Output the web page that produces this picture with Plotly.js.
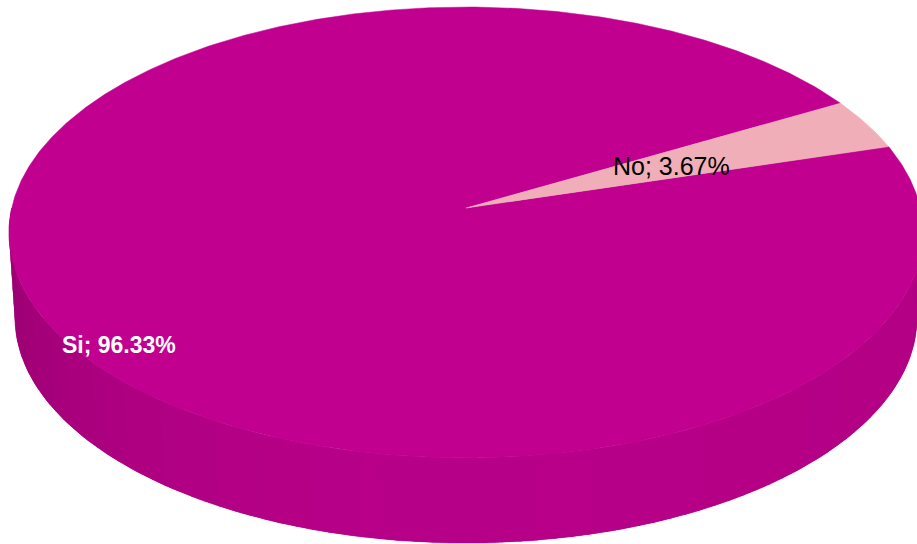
<!DOCTYPE html>
<html><head><meta charset="utf-8">
<script src="https://cdn.plot.ly/plotly-3.0.1.min.js"></script>
<style>html,body{margin:0;padding:0;background:#fff}#chart{width:917px;height:544px}</style>
</head><body><div id="chart"></div>
<script>
// ---- data ----
const categories = ["Si", "No"];
const values = [96.33, 3.67];
const sliceColors = ["#C1008F", "#F0AFB8"];
const labelTexts = ["Si; 96.33%", "No; 3.67%"];

// ---- style / geometry (not data) ----
const geo = {cx: 466, cy: 208, A: 454.3, B: 222.8, k: 0.1086, depth: 85, bottomScale: 0.987, start: 16.5};
const labelStyle = [
  {r: 0.92, dAngle: 15.8, color: "#FFFFFF", size: 23, bold: true},
  {r: 0.50, dAngle: -0.5, color: "#000000", size: 25, bold: false}
];

function proj(theta, r, drop) {
  const t = theta * Math.PI / 180;
  const u = r * Math.cos(t), v = r * Math.sin(t);
  const d = 1 + geo.k * v;
  let X = geo.A * u / d, Y = -geo.B * v / d;
  if (drop) { X *= geo.bottomScale; Y += geo.depth; }
  return [geo.cx + X, geo.cy + Y];
}
function hexToRgb(h) { return [parseInt(h.substr(1,2),16), parseInt(h.substr(3,2),16), parseInt(h.substr(5,2),16)]; }
function shade(hex, f) { const c = hexToRgb(hex); return "rgb(" + c.map(x => Math.round(x * f)).join(",") + ")"; }
function wallFactor(theta) {
  let a = ((theta % 360) + 360) % 360;
  const t = (a - 180) / 180;
  if (t < 0.5) return 0.77 + (0.95 - 0.77) * Math.sin(t * Math.PI);
  return 0.95 - (0.95 - 0.92) * (t - 0.5) * 2;
}

const total = values.reduce((a, b) => a + b, 0);
const slices = [];
let cum = 0;
values.forEach((v, i) => {
  const a0 = geo.start - cum * 360 / total;
  const a1 = a0 - v * 360 / total;
  slices.push({a0, a1, color: sliceColors[i]});
  cum += v;
});

const traces = [];
function wallPoly(t1, t2, n) {
  const xs = [], ys = [];
  for (let j = 0; j <= n; j++) { const p = proj(t1 + (t2 - t1) * j / n, 1, false); xs.push(p[0]); ys.push(p[1]); }
  for (let j = n; j >= 0; j--) { const p = proj(t1 + (t2 - t1) * j / n, 1, true); xs.push(p[0]); ys.push(p[1]); }
  xs.push(xs[0]); ys.push(ys[0]);
  return {xs, ys};
}
// walls (front visible half)
slices.forEach(s => {
  for (let n = -2; n <= 1; n++) {
    const lo = Math.max(s.a1, 180 + 360 * n), hi = Math.min(s.a0, 360 + 360 * n);
    if (hi <= lo) continue;
    // base layer to hide seams
    const base = wallPoly(lo, hi, Math.ceil(hi - lo));
    const bc = shade(s.color, 0.9);
    traces.push({type: "scatter", mode: "lines", x: base.xs, y: base.ys, fill: "toself", fillcolor: bc,
      line: {color: bc, width: 0.5}, hoverinfo: "skip", showlegend: false});
    const steps = Math.ceil((hi - lo) / 2);
    for (let j = 0; j < steps; j++) {
      const t1 = lo + (hi - lo) * j / steps, t2 = Math.min(hi, lo + (hi - lo) * (j + 1) / steps + 0.4);
      const p = wallPoly(t1, t2, 2);
      const col = shade(s.color, wallFactor(lo + (hi - lo) * (j + 0.5) / steps));
      traces.push({type: "scatter", mode: "none", x: p.xs, y: p.ys,
        fill: "toself", fillcolor: col, hoverinfo: "skip", showlegend: false});
    }
  }
});
// top faces
slices.forEach((s, i) => {
  const xs = [geo.cx], ys = [geo.cy];
  const steps = Math.max(4, Math.ceil((s.a0 - s.a1) / 0.5));
  for (let j = 0; j <= steps; j++) {
    const p = proj(s.a0 - (s.a0 - s.a1) * j / steps, 1, false);
    xs.push(p[0]); ys.push(p[1]);
  }
  xs.push(geo.cx); ys.push(geo.cy);
  traces.push({type: "scatter", mode: "lines", x: xs, y: ys, fill: "toself", fillcolor: s.color,
    line: {color: s.color, width: 0.5}, hoverinfo: "skip", showlegend: false, name: categories[i]});
});

const annotations = slices.map((s, i) => {
  const st = labelStyle[i];
  const p = proj((s.a0 + s.a1) / 2 + st.dAngle, st.r, false);
  return {x: p[0], y: p[1], xref: "x", yref: "y", showarrow: false, xanchor: "center", yanchor: "middle",
    text: st.bold ? "<b>" + labelTexts[i] + "</b>" : labelTexts[i],
    font: {family: "Liberation Sans, Arial, sans-serif", size: st.size, color: st.color}};
});

const layout = {
  width: 917, height: 544, margin: {l: 0, r: 0, t: 0, b: 0},
  paper_bgcolor: "#ffffff", plot_bgcolor: "#ffffff",
  xaxis: {range: [0, 917], visible: false, fixedrange: true},
  yaxis: {range: [544, 0], visible: false, fixedrange: true},
  showlegend: false, annotations
};
Plotly.newPlot("chart", traces, layout, {staticPlot: true, displayModeBar: false});
</script></body></html>
